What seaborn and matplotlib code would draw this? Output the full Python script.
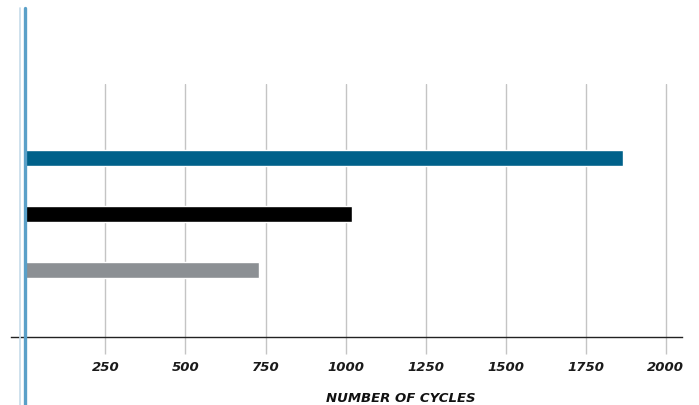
import pandas as pd
import matplotlib.pyplot as plt
import seaborn as sns

# Data
categories = ['A', 'B', 'C']
cycles = [1868, 1019, 731]
bar_colors = ['#00618a', '#000000', '#8c9094']
tick_values = [250, 500, 750, 1000, 1250, 1500, 1750, 2000]

data = pd.DataFrame({'category': categories, 'cycles': cycles})

sns.set_style('white')
plt.rcParams['font.family'] = ['DejaVu Sans']

W, H = 699, 406
fig = plt.figure(figsize=(W / 100, H / 100), dpi=100)
ax = fig.add_axes([11 / W, (H - 338) / H, (682 - 11) / W, (338 - 85) / H])

sns.barplot(data=data, x='cycles', y='category', hue='category',
            palette=bar_colors, orient='h', width=0.3, legend=False,
            saturation=1, ax=ax)

ax.set_xlim(-45, 2051)
ax.set_ylim(3.196, -1.321)

ax.set_xticks(tick_values)
ax.set_xticklabels([str(v) for v in tick_values], fontsize=9.5,
                   style='italic', weight='bold', color='#1a1a1a')
ax.tick_params(axis='x', length=12.5, width=1, color='#c4c4c4', pad=4,
               direction='out', bottom=True)
ax.set_yticks([])
ax.set_ylabel('')
ax.set_xlabel('NUMBER OF CYCLES', fontsize=9.5, style='italic',
              weight='bold', color='#111111')
ax.xaxis.set_label_coords(0.581, -0.213)

ax.grid(axis='x', color='#c4c4c4', linewidth=1)
ax.set_axisbelow(True)

for side in ['top', 'right', 'left']:
    ax.spines[side].set_visible(False)
ax.spines['bottom'].set_color('#222222')
ax.spines['bottom'].set_linewidth(1)
ax.spines['bottom'].set_zorder(3)

# zero baseline lines running the full height of the figure
ax.axvline(-18, ymin=-0.27, ymax=1.3, color='#c6dcea', linewidth=1.2,
           clip_on=False, zorder=4)
ax.axvline(-1, ymin=-0.27, ymax=1.3, color='#5aa0c8', linewidth=2.4,
           clip_on=False, zorder=4)

fig.savefig('out.png', dpi=100)
